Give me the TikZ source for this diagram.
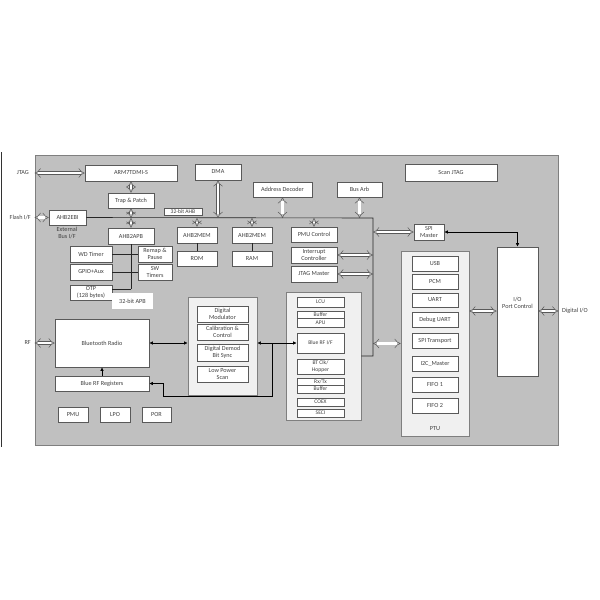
\documentclass[tikz,border=0pt]{standalone}
\usepackage{fontspec}
\setmainfont{Carlito}
\usetikzlibrary{arrows.meta}
\definecolor{chipfill}{HTML}{C0C0C0}
\definecolor{chipline}{HTML}{7F7F7F}
\definecolor{boxline}{HTML}{595959}
\definecolor{ctrfill}{HTML}{F0F0F0}
\definecolor{txtcol}{HTML}{404040}
\begin{document}
\begin{tikzpicture}[x=1pt,y=-1pt,
  sz/.style 2 args={minimum width=#1pt, minimum height=#2pt},
  chipst/.style={draw=chipline, fill=chipfill, line width=0.8pt, inner sep=0pt},
  bx/.style={draw=boxline, fill=white, line width=0.6pt, inner sep=0pt, align=center,
     text=txtcol, font=\fontsize{6.2}{7.3}\selectfont},
  sbx/.style={bx, font=\fontsize{5.6}{6.3}\selectfont},
  ctr/.style={draw=chipline, fill=ctrfill, line width=0.7pt, inner sep=0pt},
  txt/.style={inner sep=0pt, align=center, text=txtcol, font=\fontsize{6.2}{7.6}\selectfont},
  fatarr/.style={draw=boxline, double=white, double distance=2.8pt, line width=0.5pt, {Implies}-{Implies}},
  thinarr/.style={draw=black, line width=0.6pt, {Latex[length=3.5pt,width=3.5pt]}-{Latex[length=3.5pt,width=3.5pt]}},
  onearr/.style={draw=black, line width=0.6pt, -{Latex[length=3.5pt,width=3.5pt]}},
  ln/.style={draw=black!85, line width=0.6pt}
]
\useasboundingbox (0,0) rectangle (600,600);

% left edge line
\coordinate (el1) at (1,152);
\coordinate (el2) at (1,447);
\draw[line width=1pt, black!80] (el1) -- (el2);

% chip background
\node[chipst, sz={523}{290}] (chip) at (296.5,300) {};

% containers
\node[ctr, sz={68}{185}] (ptu) at (435,343.5) {};
\node[txt] (ptul) at (435,429) {PTU};
\node[ctr, sz={69}{98}] (dm) at (222.5,346) {};
\node[ctr, sz={75}{128}] (lcuc) at (323.5,356) {};

% AHB bus
\coordinate (busR) at (373,218);
\coordinate (busB) at (373,356);

% top row
\node[bx, sz={92}{16}] (arm) at (131,173) {ARM7TDMI-S};
\node[bx, sz={46}{16}] (dma) at (218,172) {DMA};
\node[bx, sz={59}{15}] (addr) at (282.5,189.5) {Address Decoder};
\node[bx, sz={45}{15}] (busarb) at (359.5,189.5) {Bus Arb};
\node[bx, sz={92}{17}] (scan) at (451,172.5) {Scan JTAG};
\node[bx, sz={46}{15}] (trap) at (131,200.5) {Trap \& Patch};
\node[bx, sz={37}{15}] (ebi) at (67.5,217.5) {AHB2EBI};
\node[txt] (ebil) at (67,233) {External\\Bus I/F};

\draw[ln] (ebi.east) -- (busR) -- (busB) -- (lcuc.east);
\node[bx, sz={38}{7}, font=\fontsize{5.6}{6}\selectfont] (ahbl) at (183,211.5) {32-bit AHB};

% APB side
\node[bx, sz={46}{16}] (apb) at (131,236) {AHB2APB};
\node[bx, sz={42}{16}] (wd) at (91,254) {WD Timer};
\node[bx, sz={42}{16}] (gpio) at (91,272) {GPIO+Aux};
\node[bx, sz={42}{15}] (otp) at (91,292.5) {OTP\\(128 bytes)};
\node[bx, sz={34}{16}] (remap) at (155,254) {Remap \&\\Pause};
\node[bx, sz={34}{16}] (swt) at (155,272) {SW\\Timers};
\coordinate (apbb) at (131,289);
\draw[ln] (apb.south) -- (apbb);
\draw[ln] (wd.east) -- (remap.west);
\draw[ln] (gpio.east) -- (swt.west);
\draw[ln] (otp.east |- apbb) -- (apbb);
\node[fill=white, inner sep=0pt, sz={41}{16}, text=txtcol, font=\fontsize{6.2}{7}\selectfont] (apbl) at (132.5,301) {32-bit APB};

% memories
\node[bx, sz={40}{16}] (mem1) at (197,235) {AHB2MEM};
\node[bx, sz={40}{15}] (rom) at (197,258.5) {ROM};
\node[bx, sz={40}{16}] (mem2) at (252,235) {AHB2MEM};
\node[bx, sz={40}{15}] (ram) at (252,258.5) {RAM};
\draw[ln] (mem1.south) -- (rom.north);
\draw[ln] (mem2.south) -- (ram.north);

\node[bx, sz={46}{15}] (pmuc) at (314,234.5) {PMU Control};
\node[bx, sz={46}{16}] (intc) at (314,255) {Interrupt\\Controller};
\node[bx, sz={46}{16}] (jtagm) at (314,274) {JTAG Master};

\node[bx, sz={30}{16}] (spi) at (429,232) {SPI\\Master};
\node[bx, sz={41}{129}] (io) at (517.5,311.5) {};
\node[txt] (iol) at (517.5,303) {I/O\\Port Control};

% PTU inner
\node[bx, sz={46}{15}] (usb) at (435,263.5) {USB};
\node[bx, sz={46}{15}] (pcm) at (435,281.5) {PCM};
\node[bx, sz={46}{14}] (uart) at (435,300) {UART};
\node[bx, sz={46}{15}] (dbg) at (435,319.5) {Debug UART};
\node[bx, sz={46}{15}] (spit) at (435,340.5) {SPI Transport};
\node[bx, sz={46}{15}] (i2c) at (435,363.5) {I2C\_Master};
\node[bx, sz={46}{15}] (fifo1) at (435,384.5) {FIFO 1};
\node[bx, sz={46}{15}] (fifo2) at (435,405.5) {FIFO 2};

% radio
\node[bx, sz={94}{48}] (btr) at (102,343) {Bluetooth Radio};
\node[bx, sz={94}{15}] (brr) at (102,383.5) {Blue RF Registers};

% digital modulator container inner
\node[bx, sz={51}{16}] (dmod) at (222.5,314) {Digital\\Modulator};
\node[bx, sz={51}{16}] (cal) at (222.5,332) {Calibration \&\\Control};
\node[bx, sz={51}{17}] (demod) at (222.5,352.5) {Digital Demod\\Bit Sync};
\node[bx, sz={51}{16}] (lps) at (222.5,374) {Low Power\\Scan};

% LCU container inner
\node[sbx, sz={47}{10}] (lcu) at (320.5,302) {LCU};
\node[sbx, sz={47}{7}] (buf1) at (320.5,314.5) {Buffer};
\node[sbx, sz={47}{9}] (apu) at (320.5,322.5) {APU};
\node[sbx, sz={47}{20}] (brfif) at (320.5,343) {Blue RF I/F};
\node[sbx, sz={47}{15}] (btclk) at (320.5,366.5) {BT Clk/\\Hopper};
\node[sbx, sz={47}{7}] (rxtx) at (320.5,381.5) {Rx/Tx};
\node[sbx, sz={47}{8}] (buf2) at (320.5,389) {Buffer};
\node[sbx, sz={47}{8}] (coex) at (320.5,402) {COEX};
\node[sbx, sz={47}{8}] (seci) at (320.5,413) {SECI};

% bottom small boxes
\node[bx, sz={30}{15}] (pmu) at (73,414.5) {PMU};
\node[bx, sz={30}{15}] (lpo) at (115,414.5) {LPO};
\node[bx, sz={29}{15}] (por) at (156.5,414.5) {POR};

% outside labels
\node[txt, anchor=east] (ljtag) at (29,173) {JTAG};
\node[txt, anchor=east] (lflash) at (31,217) {Flash I/F};
\node[txt, anchor=east] (lrf) at (31,343) {RF};
\node[txt, anchor=west] (ldio) at (562,311) {Digital I/O};

% fat hollow arrows
\draw[fatarr] (chip.west |- arm.west) -- (arm.west);
\draw[fatarr] (chip.west |- ebi.west) -- (ebi.west);
\draw[fatarr] (chip.west |- btr.west) -- (btr.west);
\draw[fatarr] (io.east |- ldio.west) -- (chip.east |- ldio.west);
\draw[fatarr] (arm.south) -- (trap.north);
\draw[fatarr] (trap.south) -- (trap.south |- busR);
\draw[fatarr] (apb.north |- busR) -- (apb.north);
\draw[fatarr] (dma.south) -- (dma.south |- busR);
\draw[fatarr] (addr.south) -- (addr.south |- busR);
\draw[fatarr] (busarb.south) -- (busarb.south |- busR);
\draw[fatarr] (mem1.north |- busR) -- (mem1.north);
\draw[fatarr] (mem2.north |- busR) -- (mem2.north);
\draw[fatarr] (pmuc.north |- busR) -- (pmuc.north);
\draw[fatarr] (busR |- spi.west) -- (spi.west);
\draw[fatarr] (intc.east) -- (busR |- intc.east);
\draw[fatarr] (jtagm.east) -- (busR |- jtagm.east);
\draw[fatarr] (busR |- ptu.west) -- (ptu.west);
\draw[fatarr] (ptu.east |- ldio.west) -- (io.west |- ldio.west);

% black arrows
\draw[thinarr] (spi.east) -- (spi.east -| io.north) -- (io.north);
\draw[thinarr] (btr.east) -- (btr.east -| dm.west);
\draw[thinarr] (dm.east |- brfif.west) -- (brfif.west);
\coordinate (jn) at (272,343);
\coordinate (jb) at (272,396);
\coordinate (jl) at (163,396);
\coordinate (jt) at (163,383.5);
\draw[onearr] (jn) -- (jb) -- (jl) -- (jt) -- (brr.east);
\draw[onearr] (brr.north) -- (btr.south);
\end{tikzpicture}
\end{document}
